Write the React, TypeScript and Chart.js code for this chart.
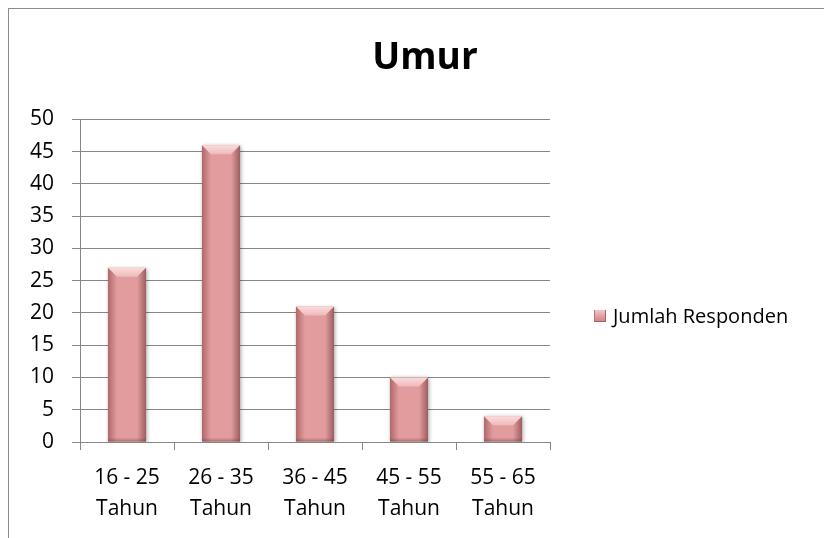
import React, { useEffect, useRef } from "react";
import { Chart, registerables } from "chart.js";

Chart.register(...registerables);

const chartTitle = "Umur";
const seriesLabel = "Jumlah Responden";
const ageRanges = ["16 - 25", "26 - 35", "36 - 45", "45 - 55", "55 - 65"];
const unitLabel = "Tahun";
const respondents = [27, 46, 21, 10, 4];
const yTicks = [0, 5, 10, 15, 20, 25, 30, 35, 40, 45, 50];

const FONT = "'Open Sans', 'DejaVu Sans', sans-serif";
const GRID = "#868686";
const BAR = "#e29c9e";

const bevelPlugin = {
  id: "bevel",
  beforeDatasetsDraw(chart: any) {
    const ctx = chart.ctx;
    ctx.save();
    ctx.shadowColor = "rgba(0,0,0,0.35)";
    ctx.shadowBlur = 4;
    ctx.shadowOffsetX = 1;
    ctx.shadowOffsetY = 1;
  },
  afterDatasetsDraw(chart: any) {
    const ctx = chart.ctx;
    ctx.restore();
    ctx.save();
    chart.getDatasetMeta(0).data.forEach((bar: any) => {
      const { x, y, base, width } = bar.getProps(["x", "y", "base", "width"], true);
      const l = x - width / 2;
      const r = x + width / 2;
      const t = Math.min(y, base);
      const b = Math.max(y, base);
      const bv = Math.min(9, (b - t) / 2);
      // top bevel
      let g = ctx.createLinearGradient(0, t, 0, t + bv);
      g.addColorStop(0, "#fadcdc");
      g.addColorStop(1, "#efbabb");
      ctx.fillStyle = g;
      ctx.beginPath();
      ctx.moveTo(l, t);
      ctx.lineTo(r, t);
      ctx.lineTo(r - bv, t + bv);
      ctx.lineTo(l + bv, t + bv);
      ctx.closePath();
      ctx.fill();
      // left side
      g = ctx.createLinearGradient(l, 0, l + bv, 0);
      g.addColorStop(0, "rgba(140,70,72,0.6)");
      g.addColorStop(1, "rgba(140,70,72,0)");
      ctx.fillStyle = g;
      ctx.beginPath();
      ctx.moveTo(l, t);
      ctx.lineTo(l + bv, t + bv);
      ctx.lineTo(l + bv, b);
      ctx.lineTo(l, b);
      ctx.closePath();
      ctx.fill();
      // right side
      g = ctx.createLinearGradient(r, 0, r - bv, 0);
      g.addColorStop(0, "rgba(120,60,62,0.65)");
      g.addColorStop(1, "rgba(120,60,62,0)");
      ctx.fillStyle = g;
      ctx.beginPath();
      ctx.moveTo(r, t);
      ctx.lineTo(r - bv, t + bv);
      ctx.lineTo(r - bv, b);
      ctx.lineTo(r, b);
      ctx.closePath();
      ctx.fill();
      // bottom edge
      g = ctx.createLinearGradient(0, b, 0, b - 4);
      g.addColorStop(0, "rgba(110,60,60,0.45)");
      g.addColorStop(1, "rgba(110,60,60,0)");
      ctx.fillStyle = g;
      ctx.fillRect(l, b - 4, width, 4);
    });
    ctx.restore();
  },
};

export default function App() {
  const ref = useRef<HTMLCanvasElement | null>(null);

  useEffect(() => {
    document.documentElement.style.overflow = "hidden";
    document.body.style.overflow = "hidden";
    Chart.defaults.font.family = FONT;
    Chart.defaults.color = "#000";
    const chart = new Chart(ref.current as HTMLCanvasElement, {
      type: "bar",
      data: {
        labels: ageRanges.map((r) => [r, unitLabel]),
        datasets: [
          {
            label: seriesLabel,
            data: respondents,
            backgroundColor: BAR,
            borderWidth: 0,
            categoryPercentage: 1,
            barPercentage: 0.405,
          },
        ],
      },
      options: {
        responsive: false,
        animation: false,
        layout: { padding: 0 },
        plugins: {
          legend: { display: false },
          tooltip: { enabled: false },
          title: {
            display: true,
            text: chartTitle,
            color: "#000",
            font: { family: FONT, size: 37, weight: "bold", lineHeight: 1.2 },
            padding: { top: 27, bottom: 39 },
          },
        },
        scales: {
          x: {
            grid: {
              drawOnChartArea: false,
              drawTicks: true,
              tickLength: 8,
              color: GRID,
              offset: true,
            },
            border: { display: true, color: GRID },
            ticks: {
              color: "#000",
              padding: 13,
              maxRotation: 0,
              autoSkip: false,
              font: { family: FONT, size: 21, lineHeight: 1.45 },
            },
            afterFit: (s: any) => {
              s.height = 96;
            },
          },
          y: {
            min: 0,
            max: 50,
            afterBuildTicks: (s: any) => {
              s.ticks = yTicks.map((v) => ({ value: v }));
            },
            grid: { color: GRID, tickLength: 8, drawTicks: true },
            border: { display: true, color: GRID },
            ticks: {
              color: "#000",
              padding: 18,
              font: { family: FONT, size: 21 },
            },
            afterFit: (s: any) => {
              s.width = 71;
            },
          },
          yRight: {
            position: "right",
            display: true,
            grid: { display: false, drawTicks: false },
            border: { display: false },
            ticks: { display: false },
            afterFit: (s: any) => {
              s.width = 291;
            },
          },
        },
      },
      plugins: [bevelPlugin],
    } as any);
    return () => chart.destroy();
  }, []);

  return (
    <div
      style={{
        position: "relative",
        width: 823,
        height: 529,
        borderTop: "1px solid #8c8c8c",
        borderLeft: "1px solid #8c8c8c",
        overflow: "hidden",
        background: "#fff",
      }}
    >
      <canvas
        ref={ref}
        width={832}
        height={529}
        style={{ display: "block", width: 832, height: 529 }}
      />
      <div
        style={{
          position: "absolute",
          left: 585,
          top: 301,
          width: 12,
          height: 12,
          boxSizing: "border-box",
          background: "linear-gradient(180deg, #f3c9c9 0%, #e29c9e 55%, #c98587 100%)",
          boxShadow: "inset 1px 0 0 #b57577, inset -1px 0 0 #a46466, inset 0 -1px 0 #9c6062",
        }}
      />
      <div
        style={{
          position: "absolute",
          left: 604,
          top: 295,
          fontFamily: FONT,
          fontSize: 20,
          lineHeight: "24px",
          color: "#000",
          whiteSpace: "nowrap",
        }}
      >
        {seriesLabel}
      </div>
    </div>
  );
}
